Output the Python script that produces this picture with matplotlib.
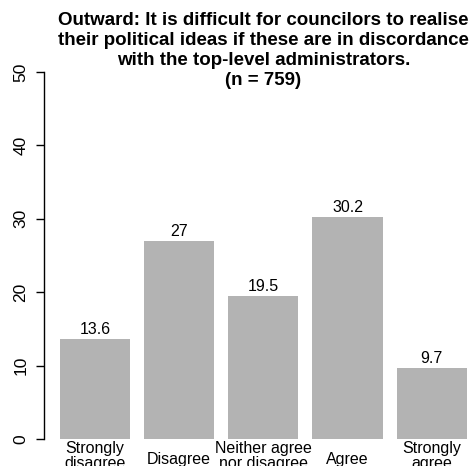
import matplotlib
matplotlib.use("Agg")
import matplotlib.pyplot as plt
import numpy as np

categories = ["Strongly\ndisagree", "Disagree", "Neither agree\nnor disagree", "Agree", "Strongly\nagree"]
values = [13.6, 27, 19.5, 30.2, 9.7]
value_labels = ["13.6", "27", "19.5", "30.2", "9.7"]
yticks = [0, 10, 20, 30, 40, 50]
title = ("Outward: It is difficult for councilors to realise\n"
         "their political ideas if these are in discordance\n"
         "with the top-level administrators.\n(n = 759)")

plt.rcParams['font.family'] = ['Liberation Sans', 'DejaVu Sans']

fig = plt.figure(figsize=(4.75, 4.66), dpi=100)
W, H = 475, 466
left_px, right_px = 43.7, 483.0
bot_px, top_px = 453.7, 57.3
ax = fig.add_axes([left_px / W, 1 - bot_px / H, (right_px - left_px) / W, (bot_px - top_px) / H])

centers = 0.7 + 1.2 * np.arange(len(values))
ax.bar(centers, values, width=1.0, color="#b3b3b3", edgecolor="none")
for c, v, lab in zip(centers, values, value_labels):
    ax.annotate(lab, (c, v), xytext=(0, 1.5), textcoords="offset points",
                ha="center", va="bottom", fontsize=11.5)

ax.set_xlim(-0.032, 6.232)
ax.set_ylim(-2, 52)
for s in ["top", "right", "bottom"]:
    ax.spines[s].set_visible(False)
ax.spines["left"].set_bounds(0, 50)
ax.spines["left"].set_linewidth(1.0)
ax.set_yticks(yticks)
ax.set_yticklabels([str(t) for t in yticks], rotation=90, va="center", fontsize=12.5)
ax.tick_params(axis="y", length=6, width=1.0, pad=5)
ax.set_xticks([])

px_per_unit = (bot_px - top_px) / 54.0
for c, lab in zip(centers, categories):
    if "\n" in lab:
        ytop = -(441 - 439) / px_per_unit
    else:
        ytop = -(452 - 439) / px_per_unit
    ax.text(c, ytop, lab, ha="center", va="top", fontsize=11.5,
            linespacing=1.0, clip_on=False)

fig.text((left_px + right_px) / 2 / W, 1 - 12 / H, title, ha="center", va="top",
         fontsize=13.5, fontweight="bold", linespacing=1.22)

fig.savefig("out.png", dpi=100)
